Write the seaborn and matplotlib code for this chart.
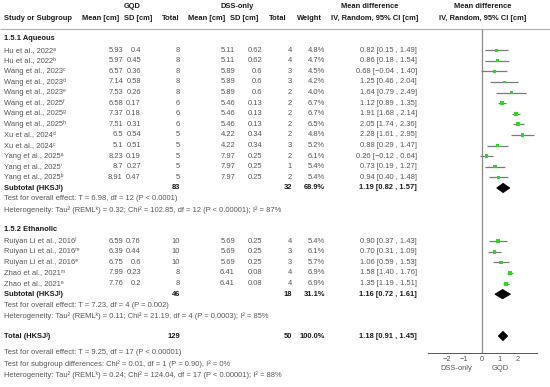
import matplotlib
matplotlib.use('Agg')
import matplotlib.pyplot as plt
from matplotlib.patches import Polygon
import seaborn as sns
import pandas as pd

sns.set_style('white')
plt.rcParams['font.family'] = ['Liberation Sans', 'DejaVu Sans']

# study level data
studies = ['Hu et al., 2022ᵃ', 'Hu et al., 2022ᵇ', 'Wang et al., 2023ᶜ', 'Wang et al., 2023ᵈ',
           'Wang et al., 2023ᵉ', 'Wang et al., 2025ᶠ', 'Wang et al., 2025ᵍ', 'Wang et al., 2025ʰ',
           'Xu et al., 2024ᵈ', 'Xu et al., 2024ᶜ', 'Yang et al., 2025ᵃ', 'Yang et al., 2025ⁱ',
           'Yang et al., 2025ᵇ',
           'Ruiyan Li et al., 2016ˡ', 'Ruiyan Li et al., 2016ᵐ', 'Ruiyan Li et al., 2016ᵉ',
           'Zhao et al., 2021ᵐ', 'Zhao et al., 2021ᵉ']
group = ['Aqueous'] * 13 + ['Ethanolic'] * 5
gqd_mean = [5.93, 5.97, 6.57, 7.14, 7.53, 6.58, 7.37, 7.51, 6.5, 5.1, 8.23, 8.7, 8.91,
            6.59, 6.39, 6.75, 7.99, 7.76]
gqd_sd = [0.4, 0.45, 0.36, 0.58, 0.26, 0.17, 0.18, 0.31, 0.54, 0.51, 0.19, 0.27, 0.47,
          0.76, 0.44, 0.6, 0.23, 0.2]
gqd_n = [8, 8, 8, 8, 8, 6, 6, 6, 5, 5, 5, 5, 5, 10, 10, 10, 8, 8]
dss_mean = [5.11, 5.11, 5.89, 5.89, 5.89, 5.46, 5.46, 5.46, 4.22, 4.22, 7.97, 7.97, 7.97,
            5.69, 5.69, 5.69, 6.41, 6.41]
dss_sd = [0.62, 0.62, 0.6, 0.6, 0.6, 0.13, 0.13, 0.13, 0.34, 0.34, 0.25, 0.25, 0.25,
          0.25, 0.25, 0.25, 0.08, 0.08]
dss_n = [4, 4, 3, 3, 2, 2, 2, 2, 2, 3, 2, 1, 2, 4, 3, 3, 4, 4]
weight = [4.8, 4.7, 4.5, 4.2, 4.0, 6.7, 6.7, 6.5, 4.8, 5.2, 6.1, 5.4, 5.4,
          5.4, 6.1, 5.7, 6.9, 6.9]
md = [0.82, 0.86, 0.68, 1.25, 1.64, 1.12, 1.91, 2.05, 2.28, 0.88, 0.26, 0.73, 0.94,
      0.90, 0.70, 1.06, 1.58, 1.35]
ci_lo = [0.15, 0.18, -0.04, 0.46, 0.79, 0.89, 1.68, 1.74, 1.61, 0.29, -0.12, 0.19, 0.40,
         0.37, 0.31, 0.59, 1.40, 1.19]
ci_hi = [1.49, 1.54, 1.40, 2.04, 2.49, 1.35, 2.14, 2.36, 2.95, 1.47, 0.64, 1.27, 1.48,
         1.43, 1.09, 1.53, 1.76, 1.51]

# pooled results
sub_titles = ['1.5.1 Aqueous', '1.5.2 Ethanolic']
sub_n_gqd = [83, 46]
sub_n_dss = [32, 18]
sub_weight = [68.9, 31.1]
sub_md = [1.19, 1.16]
sub_lo = [0.82, 0.72]
sub_hi = [1.57, 1.61]
sub_test = ['Test for overall effect: T = 6.98, df = 12 (P < 0.0001)',
            'Test for overall effect: T = 7.23, df = 4 (P = 0.002)']
sub_het = ['Heterogeneity: Tau² (REMLᵏ) = 0.32; Chi² = 102.85, df = 12 (P < 0.00001); I² = 87%',
           'Heterogeneity: Tau² (REMLᵏ) = 0.11; Chi² = 21.19, df = 4 (P = 0.0003); I² = 85%']
total_n_gqd, total_n_dss, total_weight = 129, 50, 100.0
total_md, total_lo, total_hi = 1.18, 0.91, 1.45
footer = ['Test for overall effect: T = 9.25, df = 17 (P < 0.00001)',
          'Test for subgroup differences: Chi² = 0.01, df = 1 (P = 0.90), I² = 0%',
          'Heterogeneity: Tau² (REMLᵏ) = 0.24; Chi² = 124.04, df = 17 (P < 0.00001); I² = 88%']

df = pd.DataFrame({'study': studies, 'group': group, 'gqd_mean': gqd_mean, 'gqd_sd': gqd_sd,
                   'gqd_n': gqd_n, 'dss_mean': dss_mean, 'dss_sd': dss_sd, 'dss_n': dss_n,
                   'weight': weight, 'md': md, 'lo': ci_lo, 'hi': ci_hi})

# row positions in pixels (from top)
row_h = 10.6
sec_top = {'Aqueous': 38.5, 'Ethanolic': 229.5}
ys = []
for g in ['Aqueous', 'Ethanolic']:
    k = (df.group == g).sum()
    ys += [sec_top[g] + row_h * (i + 1.1) for i in range(k)]
df['y'] = ys
sub_y = [df[df.group == g].y.max() + row_h for g in ['Aqueous', 'Ethanolic']]
total_y = 336
axis_y = 353

FS = 5.45
GREY = '#555555'
DARK = '#1a1a1a'


def ci_text(m, lo, hi):
    return f'{m:.2f} [{lo:.2f} , {hi:.2f}]'.replace('-', '−')


fig = plt.figure(figsize=(5.5, 3.87), dpi=100)
tab = fig.add_axes([0, 0, 1, 1])
tab.set_xlim(0, 550)
tab.set_ylim(387, 0)
tab.axis('off')


def put(x, y, s, ha='right', bold=False, color=None):
    tab.text(x, y, s, ha=ha, va='center', fontsize=FS,
             fontweight='bold' if bold else 'normal',
             color=color or (DARK if bold else GREY))


# headers
put(132, 7, 'GQD', ha='center', bold=True)
put(237, 7, 'DSS-only', ha='center', bold=True)
put(370, 7, 'Mean difference', ha='center', bold=True)
put(483, 7, 'Mean difference', ha='center', bold=True)
put(4, 18, 'Study or Subgroup', ha='left', bold=True)
for x, s in [(101, 'Mean [cm]'), (138, 'SD [cm]'), (171, 'Total'), (207, 'Mean [cm]'),
             (244, 'SD [cm]'), (278, 'Total'), (309, 'Weight'),
             (375, 'IV, Random, 95% CI [cm]'), (483, 'IV, Random, 95% CI [cm]')]:
    put(x, 18, s, ha='center', bold=True)
tab.hlines(28.5, 0, 550, color='#b0b0b0', lw=0.8)

# study rows
for _, r in df.iterrows():
    put(4, r.y, r.study, ha='left')
    put(123, r.y, f'{r.gqd_mean:g}')
    put(141, r.y, f'{r.gqd_sd:g}')
    put(180, r.y, f'{r.gqd_n:d}')
    put(235, r.y, f'{r.dss_mean:g}')
    put(262, r.y, f'{r.dss_sd:g}')
    put(292, r.y, f'{r.dss_n:d}')
    put(325, r.y, f'{r.weight:.1f}%')
    put(417, r.y, ci_text(r.md, r.lo, r.hi))

# subgroup rows
for i, g in enumerate(['Aqueous', 'Ethanolic']):
    put(4, sec_top[g], sub_titles[i], ha='left', bold=True)
    y = sub_y[i]
    put(4, y, 'Subtotal (HKSJʲ)', ha='left', bold=True)
    put(180, y, str(sub_n_gqd[i]), bold=True)
    put(292, y, str(sub_n_dss[i]), bold=True)
    put(325, y, f'{sub_weight[i]:.1f}%', bold=True)
    put(417, y, ci_text(sub_md[i], sub_lo[i], sub_hi[i]), bold=True)
    put(4, y + 11, sub_test[i], ha='left')
    put(4, y + 22, sub_het[i], ha='left')

put(4, total_y, 'Total (HKSJʲ)', ha='left', bold=True)
put(180, total_y, str(total_n_gqd), bold=True)
put(292, total_y, str(total_n_dss), bold=True)
put(325, total_y, f'{total_weight:.1f}%', bold=True)
put(417, total_y, ci_text(total_md, total_lo, total_hi), bold=True)
for j, s in enumerate(footer):
    put(4, 353 + 11 * j, s, ha='left')

# forest panel
fa = fig.add_axes([428 / 550, 0, (537 - 428) / 550, 1])
fa.patch.set_alpha(0)
fa.hlines(df.y, df.lo, df.hi, color='#7a7a7a', lw=0.9, zorder=2)
sns.scatterplot(data=df, x='md', y='y', size='weight', sizes=(4, 8), marker='s',
                color='#22dd22', edgecolor='none', legend=False, ax=fa, zorder=3)
fa.vlines(0, 29, axis_y, color='#8a8a8a', lw=0.9, zorder=1)


def diamond(m, lo, hi, y, h=4.7):
    fa.add_patch(Polygon([(lo, y), (m, y - h), (hi, y), (m, y + h)], closed=True,
                         facecolor='black', edgecolor='black', lw=0.5, zorder=4))


for i in range(2):
    diamond(sub_md[i], sub_lo[i], sub_hi[i], sub_y[i])
diamond(total_md, total_lo, total_hi, total_y)

fa.set_xlim(-3.05, 3.1)
fa.set_ylim(387, 0)
fa.set_xlabel('')
fa.set_ylabel('')
fa.set_yticks([])
fa.set_xticks([-2, -1, 0, 1, 2])
for sp in ['left', 'right', 'top']:
    fa.spines[sp].set_visible(False)
fa.spines['bottom'].set_position(('data', axis_y))
fa.spines['bottom'].set_color('#555555')
fa.spines['bottom'].set_linewidth(0.7)
fa.tick_params(axis='x', direction='inout', length=4, width=0.6, colors='#555555',
               labelsize=FS, pad=0)
fa.text(-1.45, 369, 'DSS-only', ha='center', va='center', fontsize=FS, color=GREY)
fa.text(1.0, 369, 'GQD', ha='center', va='center', fontsize=FS, color=GREY)

fig.savefig('out.png', dpi=100)
